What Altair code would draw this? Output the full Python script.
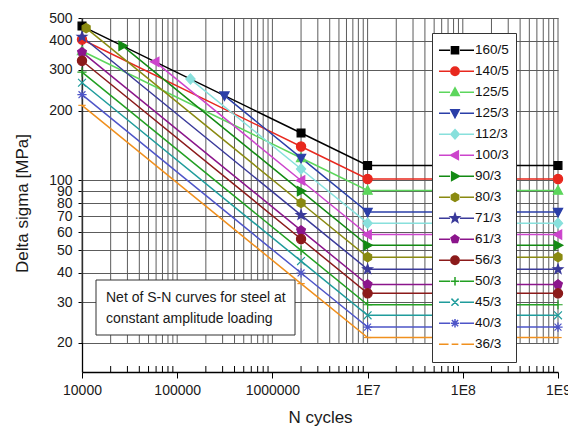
import math
import altair as alt
import pandas as pd

FONT = "Liberation Sans, Arial, sans-serif"

# ---- data ----
series = ["160/5", "140/5", "125/5", "125/3", "112/3", "100/3", "90/3", "80/3",
          "71/3", "61/3", "56/3", "50/3", "45/3", "40/3", "36/3"]
colors = ["#000000", "#e8281e", "#5cd65c", "#2b3fa8", "#88e0dc", "#cc44cc", "#138a13", "#8a8a10",
          "#3a3a9a", "#8b158b", "#8b1a1a", "#22a022", "#1f9c9c", "#4e55c8", "#f0901e"]
markers = ["square", "circle", "tri_up", "tri_down", "diamond", "tri_left", "tri_right", "hexagon",
           "star", "pentagon", "circle", "plus", "cross", "asterisk", "dash"]
start_N = [10000, 10000, 10000, 313600, 137800, 58800, 26700, 11050,
           10000, 10000, 10000, 10000, 10000, 10000, 10000]
start_sigma = [461.6, 403.9, 360.6, 231.8, 273.1, 324.0, 379.4, 452.5,
               415.2, 356.7, 327.5, 292.4, 263.2, 233.9, 210.5]
knee_N = [2000000, 10000000, 1000000000]
sigma_2e6 = [160, 140, 125, 125, 112, 100, 90, 80, 71, 61, 56, 50, 45, 40, 36]
sigma_1e7 = [116.0, 101.5, 90.6, 73.1, 65.5, 58.5, 52.6, 46.8, 41.5, 35.7, 32.7, 29.2, 26.3, 23.4, 21.1]

y_ticks = [20, 30, 40, 50, 60, 70, 80, 90, 100, 200, 300, 400, 500]
x_decades = [10000, 100000, 1000000, 10000000, 100000000, 1000000000]
x_minor = [k * d for d in x_decades[:-1] for k in range(2, 10)]
x_grid = x_decades + x_minor

note_lines = ["Net of S-N curves for steel at", "constant amplitude loading"]

rows = []
for i, s in enumerate(series):
    pts = [(start_N[i], start_sigma[i])] + list(zip(knee_N, [sigma_2e6[i], sigma_1e7[i], sigma_1e7[i]]))
    for n, v in pts:
        rows.append({"series": s, "N": n, "sigma": v})
df = pd.DataFrame(rows)


# ---- marker path helpers (style) ----
def f(v):
    s = f"{v:.3f}".rstrip("0").rstrip(".")
    return "0" if s in ("-0", "") else s


def poly(pts, s):
    return "M" + "L".join(f"{f(x * s)},{f(y * s)}" for x, y in pts) + "Z"


def seg(pts, s):
    return "M" + "L".join(f"{f(x * s)},{f(y * s)}" for x, y in pts)


def reg(n, r, a0):
    return [(r * math.cos(math.radians(a0 + 360 * k / n)), r * math.sin(math.radians(a0 + 360 * k / n))) for k in range(n)]


def marker_path(kind, s):
    if kind == "square":
        return poly([(-0.85, -0.85), (0.85, -0.85), (0.85, 0.85), (-0.85, 0.85)], s)
    if kind == "circle":
        return f"M{f(s)},0A{f(s)},{f(s)},0,1,1,{f(-s)},0A{f(s)},{f(s)},0,1,1,{f(s)},0Z"
    if kind == "tri_up":
        return poly([(0, -1.05), (1.0, 0.8), (-1.0, 0.8)], s)
    if kind == "tri_down":
        return poly([(0, 1.05), (1.0, -0.8), (-1.0, -0.8)], s)
    if kind == "tri_left":
        return poly([(-1.05, 0), (0.8, -1.0), (0.8, 1.0)], s)
    if kind == "tri_right":
        return poly([(1.05, 0), (-0.8, -1.0), (-0.8, 1.0)], s)
    if kind == "diamond":
        return poly([(0, -1.1), (1.0, 0), (0, 1.1), (-1.0, 0)], s)
    if kind == "hexagon":
        return poly(reg(6, 1.0, 30), s)
    if kind == "pentagon":
        return poly(reg(5, 1.0, -90), s)
    if kind == "star":
        pts = []
        for k in range(10):
            r = 1.1 if k % 2 == 0 else 0.45
            a = math.radians(-90 + 36 * k)
            pts.append((r * math.cos(a), r * math.sin(a)))
        return poly(pts, s)
    if kind == "plus":
        return seg([(-1, 0), (1, 0)], s) + seg([(0, -1), (0, 1)], s)
    if kind == "cross":
        return seg([(-0.85, -0.85), (0.85, 0.85)], s) + seg([(-0.85, 0.85), (0.85, -0.85)], s)
    if kind == "asterisk":
        return (seg([(-1, 0), (1, 0)], s) + seg([(0, -1), (0, 1)], s)
                + seg([(-0.75, -0.75), (0.75, 0.75)], s) + seg([(-0.75, 0.75), (0.75, -0.75)], s))
    if kind == "dash":
        return seg([(-0.8, 0), (0.8, 0)], s)
    return ""


plot_shapes = [marker_path(k, 1.0) for k in markers]
legend_shapes = []
for k in markers:
    gap = 0.34 if k == "dash" else 0.26
    legend_shapes.append(marker_path(k, 0.22) + f"M-1,0L-{gap},0M{gap},0L1,0")

W, H = 476, 354

x_scale = alt.Scale(type="log", domain=[10000, 1000000000], nice=False)
y_scale = alt.Scale(type="log", domain=[15, 500], nice=False)
col_scale = alt.Scale(domain=series, range=colors)

x_axis = alt.Axis(
    values=x_decades,
    labelExpr="datum.value < 1e7 ? format(datum.value, 'd') : '1E' + format(round(log(datum.value) / LN10), 'd')",
    grid=False, ticks=True, tickSize=6, tickColor="#000", tickWidth=1,
    domainColor="#000", domainWidth=1.3,
    labelFont=FONT, labelFontSize=14, labelColor="#1a1a1a", labelPadding=5,
    labelFlush=False, labelOverlap=False,
    title="N cycles", titleFont=FONT, titleFontSize=17, titleFontWeight="normal",
    titleColor="#1a1a1a", titleX=238, titleY=50, titleBaseline="alphabetic",
)
y_axis = alt.Axis(
    values=y_ticks, format="d",
    grid=True, gridColor="#5c5c5c", gridWidth=1,
    tickSize=4, tickColor="#000", domainColor="#000", domainWidth=1.3,
    labelFont=FONT, labelFontSize=14, labelColor="#1a1a1a", labelPadding=6,
    labelOverlap=False, labelFlush=False,
    title="Delta sigma [MPa]", titleFont=FONT, titleFontSize=17, titleFontWeight="normal",
    titleColor="#1a1a1a", titleX=-55, titleY=185, titleAngle=270, titleBaseline="alphabetic",
)

grid_df = pd.DataFrame({"N": x_grid})
vgrid = alt.Chart(grid_df).mark_rule(color="#5c5c5c", strokeWidth=1).encode(
    x=alt.X("N:Q", scale=x_scale, axis=x_axis),
    y=alt.Y(datum=y_ticks[0], scale=y_scale, axis=y_axis),
    y2=alt.Y2(datum=y_ticks[-1]),
)

lines = alt.Chart(df).mark_line(strokeWidth=1.5).encode(
    x=alt.X("N:Q", scale=x_scale, axis=x_axis),
    y=alt.Y("sigma:Q", scale=y_scale, axis=y_axis),
    stroke=alt.Stroke("series:N", scale=col_scale, legend=None),
    detail="series:N",
)

points = alt.Chart(df).mark_point(filled=True, opacity=1, size=85, strokeWidth=1.2).encode(
    x=alt.X("N:Q", scale=x_scale, axis=x_axis),
    y=alt.Y("sigma:Q", scale=y_scale, axis=y_axis),
    fill=alt.Fill("series:N", scale=col_scale, legend=None),
    stroke=alt.Stroke("series:N", scale=col_scale, legend=None),
    shape=alt.Shape("series:N", scale=alt.Scale(domain=series, range=plot_shapes), legend=None),
)

leg = alt.Legend(title=None, orient="none", legendX=350, legendY=15)
legend_layer = alt.Chart(df).transform_filter("false").mark_point(filled=True, opacity=1).encode(
    x=alt.X("N:Q", scale=x_scale, axis=x_axis),
    y=alt.Y("sigma:Q", scale=y_scale, axis=y_axis),
    fill=alt.Fill("series:N", scale=col_scale, legend=leg),
    stroke=alt.Stroke("series:N", scale=col_scale, legend=leg),
    shape=alt.Shape("series:N", scale=alt.Scale(domain=series, range=legend_shapes), legend=leg),
)

one = pd.DataFrame({"k": [0]})
box = alt.Chart(one).mark_rect(fill="white", stroke="#333333", strokeWidth=1).encode(
    x=alt.value(14), x2=alt.value(213), y=alt.value(262), y2=alt.value(317),
)
note = alt.Chart(one).mark_text(
    align="left", baseline="alphabetic", font=FONT, fontSize=14, color="#1a1a1a", lineHeight=21.3,
).encode(x=alt.value(24), y=alt.value(283.7), text=alt.value(note_lines))

minor_df = pd.DataFrame({"N": x_minor})
minor_ticks = alt.Chart(minor_df).mark_rule(color="#000", strokeWidth=1).encode(
    x=alt.X("N:Q", scale=x_scale, axis=x_axis),
    y=alt.value(H - 6), y2=alt.value(H),
)

chart = alt.layer(vgrid, lines, points, box, note, legend_layer, minor_ticks).resolve_scale(
    fill="independent", stroke="independent", shape="independent"
).properties(
    width=W, height=H,
    autosize=alt.AutoSizeParams(type="none"),
    padding={"left": 82, "top": 18, "right": 10, "bottom": 56},
    background="white",
).configure_view(stroke=None).configure_legend(
    fillColor="white", strokeColor="#333333", padding=7,
    symbolSize=1444, symbolStrokeWidth=1.5, symbolOffset=-4,
    labelFont=FONT, labelFontSize=13.5, labelColor="#111111", labelOffset=0,
    clipHeight=20.4, rowPadding=0,
)

chart.save("out.html", embed_options={"renderer": "svg", "actions": False})
